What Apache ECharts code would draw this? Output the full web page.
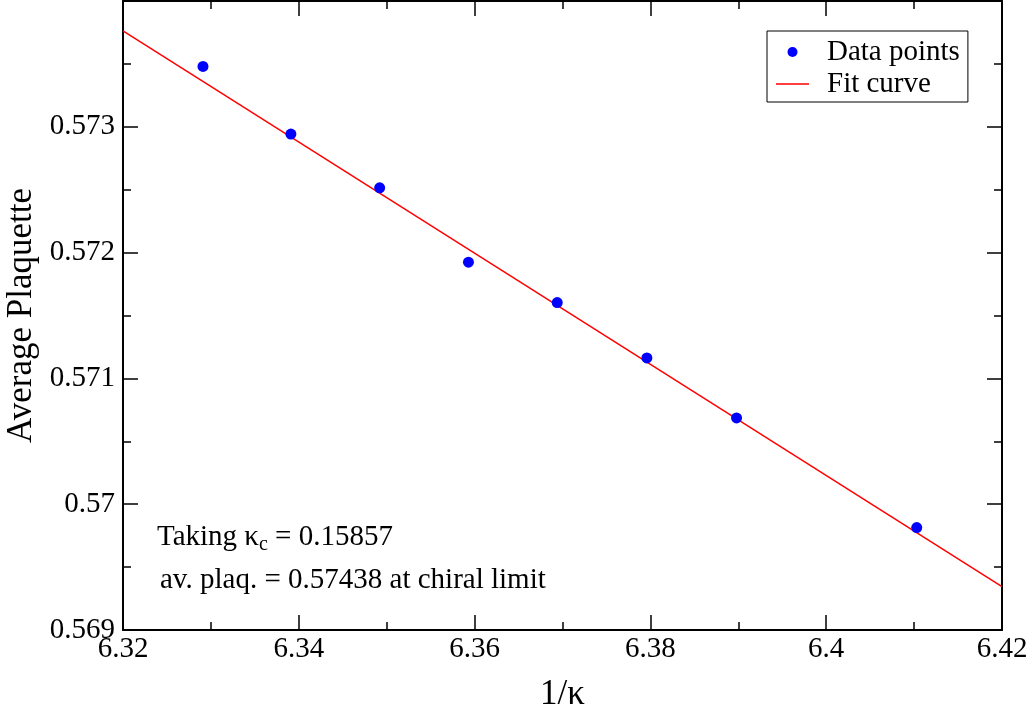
<!DOCTYPE html>
<html>
<head>
<meta charset="utf-8">
<script src="https://cdn.jsdelivr.net/npm/echarts@6/dist/echarts.min.js"></script>
<style>
  html, body { margin: 0; padding: 0; background: #fff; }
  #chart { width: 1034px; height: 719px; }
</style>
</head>
<body>
<div id="chart"></div>
<script>
// 1/kappa values of the measured ensembles
const invKappa = [6.3291, 6.3391, 6.3492, 6.3593, 6.3694, 6.3796, 6.3898, 6.4103];
// average plaquette measured at each 1/kappa
const plaquette = [0.573480, 0.572942, 0.572515, 0.571924, 0.571603, 0.571163, 0.570686, 0.569814];
// linear fit, evaluated at the two ends of the axis range
const fitX = [6.32, 6.42];
const fitY = [0.573763, 0.569344];
// annotation lines
const kappaC = '0.15857';
const plaqChiral = '0.57438';

const FONT = "'Liberation Serif', 'DejaVu Serif', 'Times New Roman', serif";

const chart = echarts.init(document.getElementById('chart'), null, { renderer: 'canvas' });

const axisCommon = {
  axisLine: { show: true, onZero: false, lineStyle: { color: '#000', width: 2 } },
  axisTick: { show: true, inside: true, length: 15, lineStyle: { color: '#000', width: 1.5 } },
  minorTick: { show: true, splitNumber: 2, length: 8, lineStyle: { color: '#000', width: 1.5 } },
  splitLine: { show: false },
  minorSplitLine: { show: false }
};

// a plain horizontal stroke for the fit-curve legend entry
// (the zero-length moves keep the full 33x10 icon box)
const lineIcon = 'path://M0,0 L0,0 M0,4.3 L33,4.3 L33,5.7 L0,5.7 Z M33,10 L33,10';

const option = {
  backgroundColor: '#fff',
  animation: false,
  grid: { left: 123, right: 32, top: 1, bottom: 89, containLabel: false, outerBoundsMode: 'none' },
  legend: {
    orient: 'vertical',
    left: 767,
    top: 31,
    padding: [5, 8, 2, 9],
    itemGap: 0,
    itemWidth: 33,
    itemHeight: 10,
    borderColor: '#000',
    borderWidth: 1,
    backgroundColor: '#fff',
    textStyle: { fontFamily: FONT, fontSize: 29, color: '#000', lineHeight: 32, padding: [0, 0, 0, 13] },
    data: [
      { name: 'Data points', icon: 'circle' },
      { name: 'Fit curve', icon: lineIcon }
    ]
  },
  xAxis: [
    Object.assign({
      type: 'value', position: 'bottom', min: 6.32, max: 6.42, interval: 0.02,
      name: '1/\u03ba', nameLocation: 'middle', nameGap: 47,
      nameTextStyle: { fontFamily: FONT, fontSize: 35, color: '#000' },
      axisLabel: { fontFamily: FONT, fontSize: 29, color: '#000', margin: 5 }
    }, axisCommon),
    Object.assign({
      type: 'value', position: 'top', min: 6.32, max: 6.42, interval: 0.02,
      axisLabel: { show: false }
    }, axisCommon)
  ],
  yAxis: [
    Object.assign({
      type: 'value', position: 'left', min: 0.569, max: 0.574, interval: 0.001,
      name: 'Average Plaquette', nameLocation: 'middle', nameGap: 76, nameRotate: 90,
      nameTextStyle: { fontFamily: FONT, fontSize: 35, color: '#000' },
      axisLabel: { fontFamily: FONT, fontSize: 29, color: '#000', margin: 8, showMaxLabel: false }
    }, axisCommon),
    Object.assign({
      type: 'value', position: 'right', min: 0.569, max: 0.574, interval: 0.001,
      axisLabel: { show: false }
    }, axisCommon)
  ],
  series: [
    {
      name: 'Fit curve',
      type: 'line',
      xAxisIndex: 0, yAxisIndex: 0,
      symbol: 'none',
      data: fitX.map((x, i) => [x, fitY[i]]),
      lineStyle: { color: '#ff0000', width: 1.5 },
      itemStyle: { color: '#ff0000' },
      z: 2
    },
    {
      name: 'Data points',
      type: 'scatter',
      xAxisIndex: 0, yAxisIndex: 0,
      symbol: 'circle',
      symbolSize: 11,
      data: invKappa.map((x, i) => [x, plaquette[i]]),
      itemStyle: { color: '#0000ff', opacity: 1 },
      z: 3
    }
  ],
  graphic: [
    {
      type: 'text',
      left: 157,
      top: 519,
      style: {
        text: '{n|Taking \u03ba}{s|c}{n| = ' + kappaC + '}',
        rich: {
          n: { fontFamily: FONT, fontSize: 29, fill: '#000', lineHeight: 36 },
          s: { fontFamily: FONT, fontSize: 20, fill: '#000', padding: [16, 0, 0, 0], lineHeight: 36 }
        }
      }
    },
    {
      type: 'text',
      left: 160,
      top: 566,
      style: {
        text: 'av. plaq. = ' + plaqChiral + ' at chiral limit',
        fontFamily: FONT, fontSize: 29, fill: '#000'
      }
    }
  ]
};

chart.setOption(option);
</script>
</body>
</html>
